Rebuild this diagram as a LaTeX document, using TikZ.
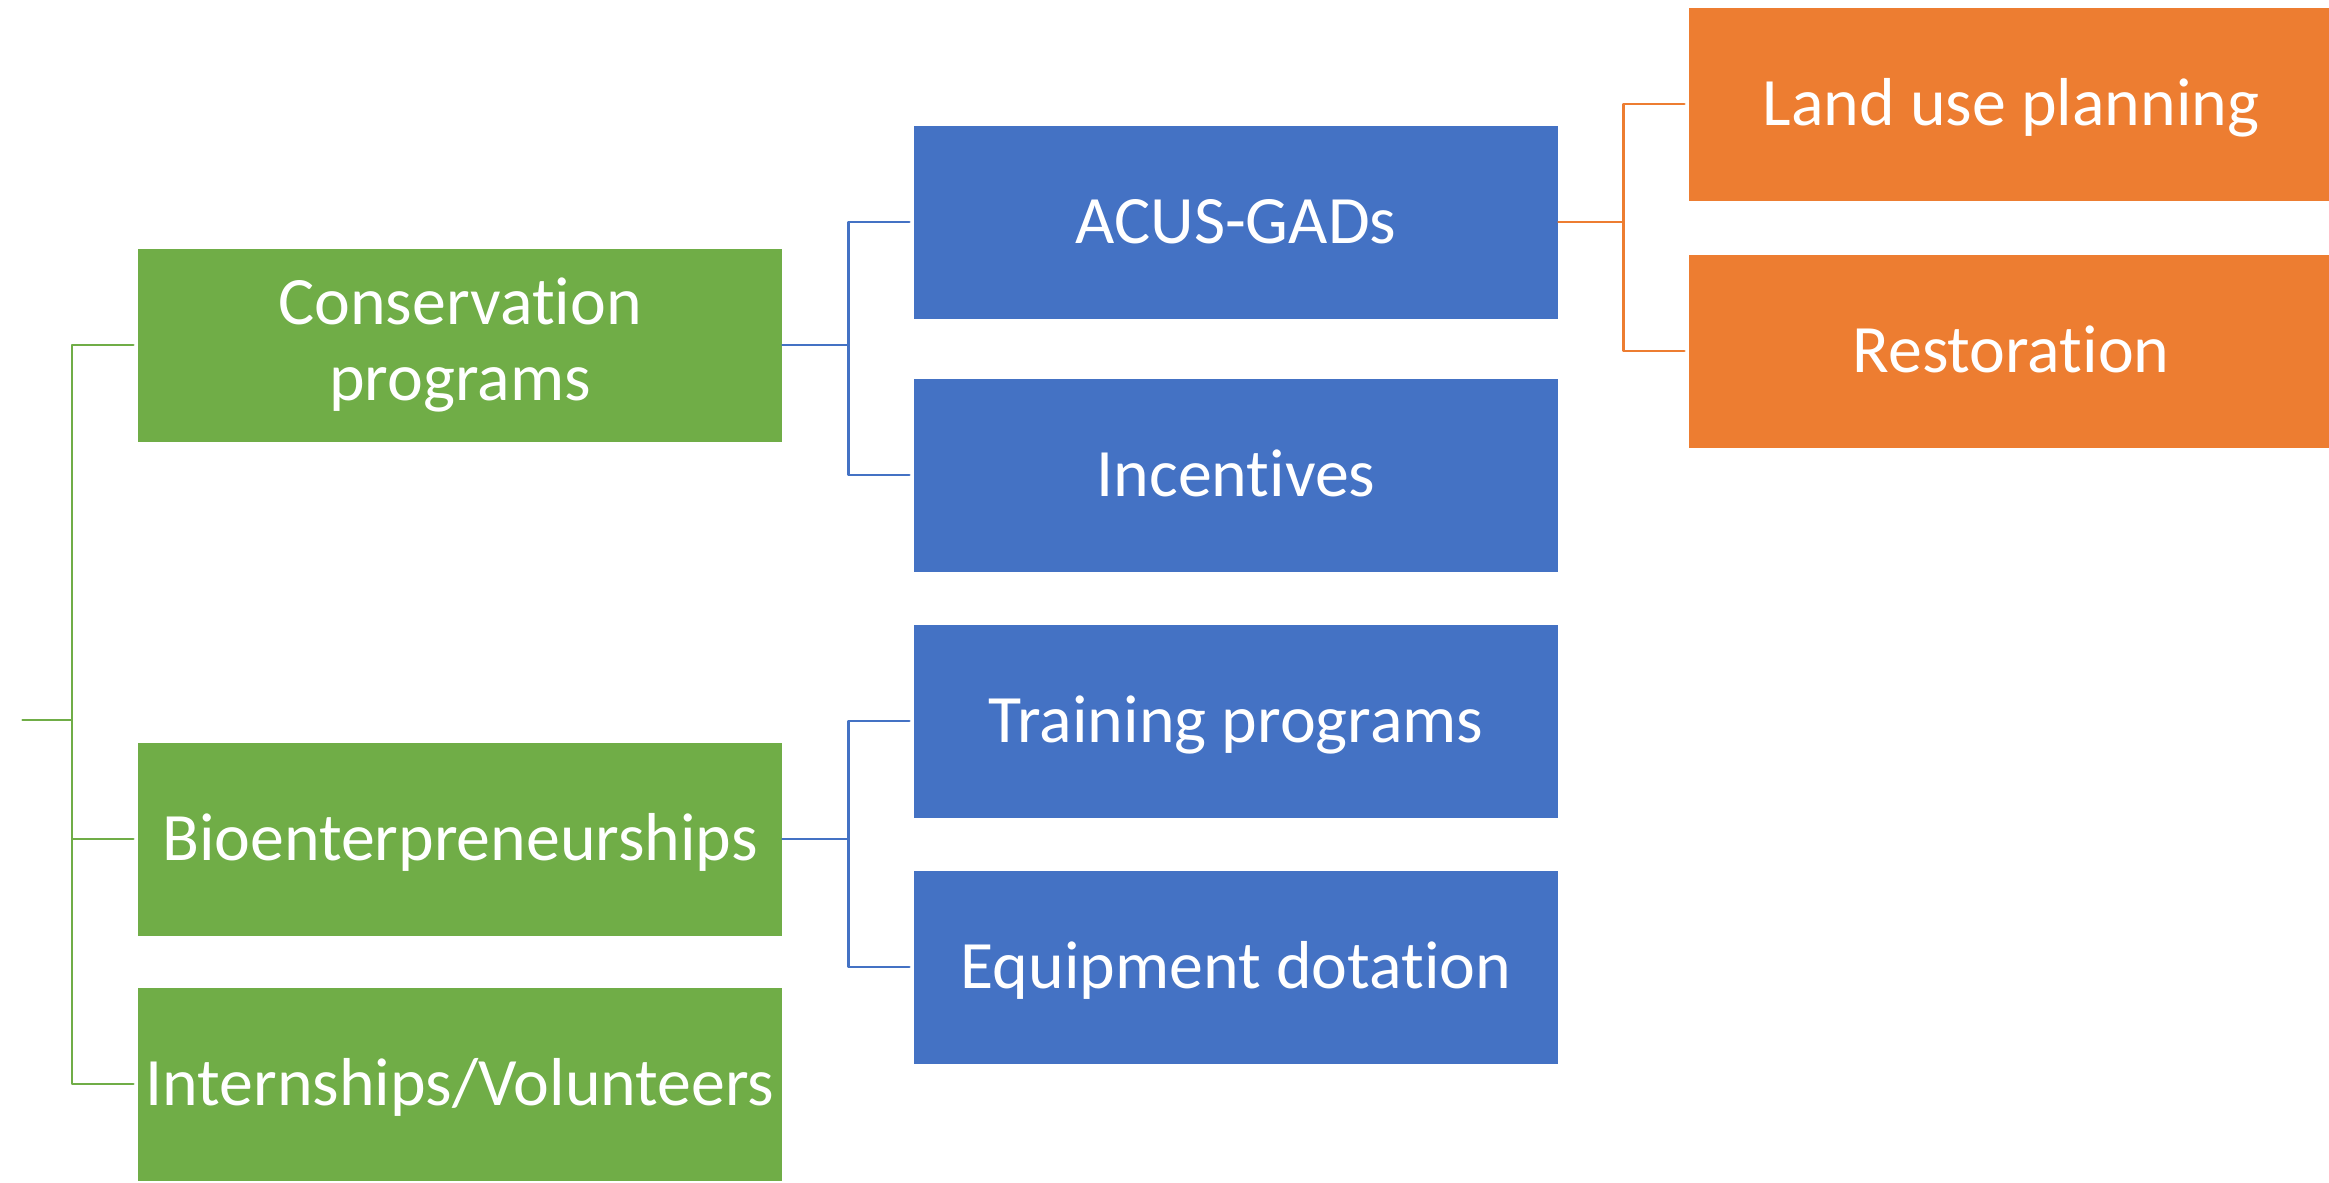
\documentclass[tikz,border=0pt]{standalone}
\usepackage{fontspec}
\setmainfont{Carlito}[Ligatures={NoCommon,NoRequired,NoContextual},Contextuals=NoAlternate]
\definecolor{cgreen}{HTML}{70AD47}
\definecolor{cblue}{HTML}{4472C4}
\definecolor{corange}{HTML}{ED7D31}
\begin{document}
\begin{tikzpicture}[line join=round,line cap=round,font=\fontsize{19.3}{21.5}\selectfont,
	box/.style={minimum width=6.44cm,minimum height=1.93cm,inner sep=0pt,text=white,align=center},
	single/.style={box,text height=0.437cm,text depth=0pt},
	link/.style={line width=0.8pt,shorten >=0.04cm}]
	\useasboundingbox (0,0) rectangle (23.29,11.82);
	\clip (0,0) rectangle (23.29,11.82);
	%\draw[help lines] (0,0) grid (23,11);
	\node[box,fill=cgreen] (cons) at (4.60,8.37) {Conservation\\programs};
	\node[single,fill=cgreen] (bio) at (4.60,3.43) {Bioenterpreneurships};
	\node[single,fill=cgreen] (intern) at (4.60,0.98) {Internships/Volunteers};
	\foreach \y/\n/\t in {9.60/acus/ACUS-GADs,7.07/incent/Incentives,4.61/train/Training programs,2.15/equip/Equipment dotation}
		\node[single,fill=cblue] (\n) at (12.36,\y) {\t};
	\foreach \y/\n/\t in {10.78/land/Land use planning,8.31/resto/Restoration}
		\node[single,fill=corange] (\n) at (20.11,\y) {\t};
	\coordinate (root) at (0.23,4.62);
	\foreach \n in {cons,bio,intern}{\draw[link,cgreen] (root) -- ++(0.49,0) |- (\n.west);}
	\foreach \n in {acus,incent}{\draw[link,cblue] (cons.east) -- ++(0.66,0) |- (\n.west);}
	\foreach \n in {train,equip}{\draw[link,cblue] (bio.east) -- ++(0.66,0) |- (\n.west);}
	\foreach \n in {land,resto}{\draw[link,corange] (acus.east) -- ++(0.65,0) |- (\n.west);}
\end{tikzpicture}
\end{document}
